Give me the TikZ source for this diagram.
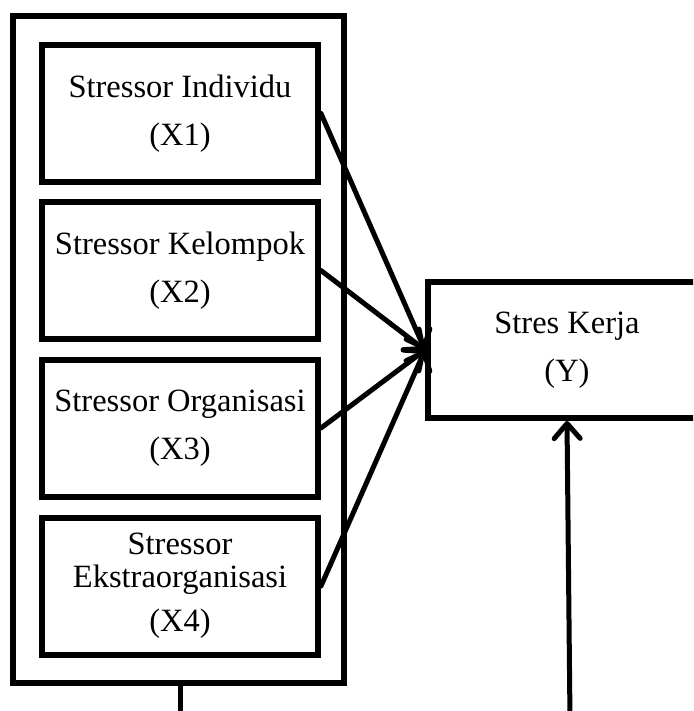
\documentclass[tikz,border=0pt]{standalone}
\usepackage{fontspec}
\setmainfont{Liberation Serif}
\usetikzlibrary{arrows.meta}
\begin{document}
\begin{tikzpicture}[x=1pt,y=-1pt,
  box/.style={draw=black,line width=6pt,rectangle,inner sep=0pt,align=center,
    font=\fontsize{32.5}{33}\selectfont},
  xbox/.style={box,minimum width=276pt,minimum height=137pt},
  arr/.style={line width=5pt,line cap=round,-{Straight Barb[length=15pt,width=26pt,line cap=round,line join=round]}}]
\useasboundingbox (0,0) rectangle (693,711);
\clip (0,0) rectangle (693,711);
\fill[white] (0,0) rectangle (693,711);
\node[box,minimum width=331pt,minimum height=667pt] (outer) at (178.5,349.5) {};
\node[xbox] (x1) at (180,113.5) {Stressor Individu\\[15pt](X1)};
\node[xbox] (x2) at (180,270.5) {Stressor Kelompok\\[15pt](X2)};
\node[xbox] (x3) at (180,428) {Stressor Organisasi\\[15pt](X3)};
\node[xbox] (x4) at (180,586) {Stressor\\Ekstraorganisasi\\[11pt](X4)};
\node[box,minimum width=278pt,minimum height=136pt] (y) at (567,350) {Stres Kerja\\[15pt](Y)};
\draw[arr] (x1.east) -- (y.west);
\draw[arr] (x2.east) -- (y.west);
\draw[arr] (x3.east) -- (y.west);
\draw[arr] (x4.east) -- (y.west);
\coordinate (b1) at (180,720);
\coordinate (b2) at (570,720);
\draw[line width=5pt] (outer.south -| b1) -- (b1);
\draw[arr] (b2) -- (y.south);
\end{tikzpicture}
\end{document}
